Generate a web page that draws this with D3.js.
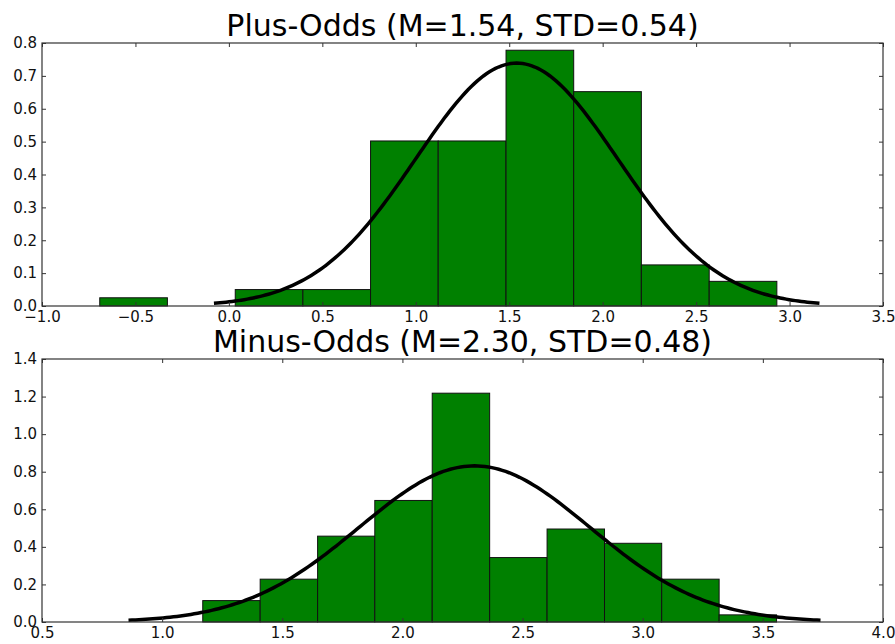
<!DOCTYPE html>
<html>
<head>
<meta charset="utf-8">
<script src="https://cdn.jsdelivr.net/npm/d3@7/dist/d3.min.js"></script>
<style>
  html, body { margin: 0; padding: 0; background: #fff; }
  svg { display: block; }
  text { font-family: "DejaVu Sans", sans-serif; }
</style>
</head>
<body>
<svg id="chart" width="895" height="644"></svg>
<script>
// ---- Data ----
// Plus-Odds histogram: bin edges and normalized densities
const plusTitle = "Plus-Odds (M=1.54, STD=0.54)";
const plusMean = 1.54;
const plusStd = 0.54;
const plusEdges = [-0.691, -0.329, 0.034, 0.396, 0.758, 1.120, 1.483, 1.845, 2.207, 2.570, 2.932];
const plusDensity = [0.025, 0.0, 0.050, 0.050, 0.502, 0.502, 0.778, 0.652, 0.125, 0.075];
const plusXDomain = [-1.0, 3.5];
const plusYDomain = [0.0, 0.8];
const plusXTicks = [-1.0, -0.5, 0.0, 0.5, 1.0, 1.5, 2.0, 2.5, 3.0, 3.5];
const plusYTicks = [0.0, 0.1, 0.2, 0.3, 0.4, 0.5, 0.6, 0.7, 0.8];

// Minus-Odds histogram
const minusTitle = "Minus-Odds (M=2.30, STD=0.48)";
const minusMean = 2.30;
const minusStd = 0.48;
const minusEdges = [1.169, 1.408, 1.647, 1.885, 2.124, 2.363, 2.602, 2.841, 3.079, 3.318, 3.557];
const minusDensity = [0.114, 0.228, 0.457, 0.647, 1.218, 0.343, 0.495, 0.419, 0.228, 0.038];
const minusXDomain = [0.5, 4.0];
const minusYDomain = [0.0, 1.4];
const minusXTicks = [0.5, 1.0, 1.5, 2.0, 2.5, 3.0, 3.5, 4.0];
const minusYTicks = [0.0, 0.2, 0.4, 0.6, 0.8, 1.0, 1.2, 1.4];

// ---- Drawing ----
const svg = d3.select("#chart");

function normalPdf(x, m, s) {
  return Math.exp(-0.5 * ((x - m) / s) ** 2) / (s * Math.sqrt(2 * Math.PI));
}

function drawPanel(cfg) {
  const { left, right, top, bottom } = cfg.box;
  const x = d3.scaleLinear().domain(cfg.xDomain).range([left, right]);
  const y = d3.scaleLinear().domain(cfg.yDomain).range([bottom, top]);
  const g = svg.append("g");

  // bars
  const bins = cfg.density.map((d, i) => ({ x0: cfg.edges[i], x1: cfg.edges[i + 1], v: d }))
    .filter(b => b.v > 0);
  g.append("g").selectAll("rect").data(bins).join("rect")
    .attr("x", d => x(d.x0))
    .attr("width", d => x(d.x1) - x(d.x0))
    .attr("y", d => y(d.v))
    .attr("height", d => y(0) - y(d.v))
    .attr("fill", "#008000")
    .attr("stroke", "#111")
    .attr("stroke-width", 1);

  // fitted normal curve over mean ± 3 std
  const xs = d3.range(0, 201).map(i => cfg.mean - 3 * cfg.std + i * (6 * cfg.std) / 200);
  const line = d3.line().x(d => x(d)).y(d => y(normalPdf(d, cfg.mean, cfg.std)));
  g.append("path").datum(xs)
    .attr("d", line)
    .attr("fill", "none")
    .attr("stroke", "#000")
    .attr("stroke-width", 3.5);

  const fmtX = d3.format(".1f");
  const fmtY = d3.format(".1f");

  // axes, ticks pointing inward
  const axB = g.append("g").attr("transform", `translate(0,${bottom})`)
    .call(d3.axisBottom(x).tickValues(cfg.xTicks).tickFormat(fmtX).tickSizeInner(-4).tickSizeOuter(0).tickPadding(5));
  const axT = g.append("g").attr("transform", `translate(0,${top})`)
    .call(d3.axisTop(x).tickValues(cfg.xTicks).tickFormat("").tickSizeInner(-4).tickSizeOuter(0));
  const axL = g.append("g").attr("transform", `translate(${left},0)`)
    .call(d3.axisLeft(y).tickValues(cfg.yTicks).tickFormat(fmtY).tickSizeInner(-4).tickSizeOuter(0).tickPadding(5));
  const axR = g.append("g").attr("transform", `translate(${right},0)`)
    .call(d3.axisRight(y).tickValues(cfg.yTicks).tickFormat("").tickSizeInner(-4).tickSizeOuter(0));

  [axB, axT, axL, axR].forEach(a => {
    a.select(".domain").remove();
    a.selectAll(".tick line").attr("stroke", "#333").attr("stroke-width", 1);
    a.selectAll("text").attr("font-family", "DejaVu Sans").attr("font-size", 15).attr("fill", "#111");
  });

  // frame
  g.append("rect")
    .attr("x", left).attr("y", top)
    .attr("width", right - left).attr("height", bottom - top)
    .attr("fill", "none").attr("stroke", "#333").attr("stroke-width", 1.2);

  // title
  g.append("text")
    .attr("x", (left + right) / 2)
    .attr("y", cfg.titleY)
    .attr("text-anchor", "middle")
    .attr("font-size", 30)
    .attr("fill", "#000")
    .text(cfg.title);
}

drawPanel({
  box: { left: 42, right: 883, top: 43, bottom: 306 },
  xDomain: plusXDomain, yDomain: plusYDomain,
  xTicks: plusXTicks, yTicks: plusYTicks,
  edges: plusEdges, density: plusDensity,
  mean: plusMean, std: plusStd,
  title: plusTitle, titleY: 36
});

drawPanel({
  box: { left: 42, right: 883, top: 359, bottom: 622 },
  xDomain: minusXDomain, yDomain: minusYDomain,
  xTicks: minusXTicks, yTicks: minusYTicks,
  edges: minusEdges, density: minusDensity,
  mean: minusMean, std: minusStd,
  title: minusTitle, titleY: 352
});
</script>
</body>
</html>
